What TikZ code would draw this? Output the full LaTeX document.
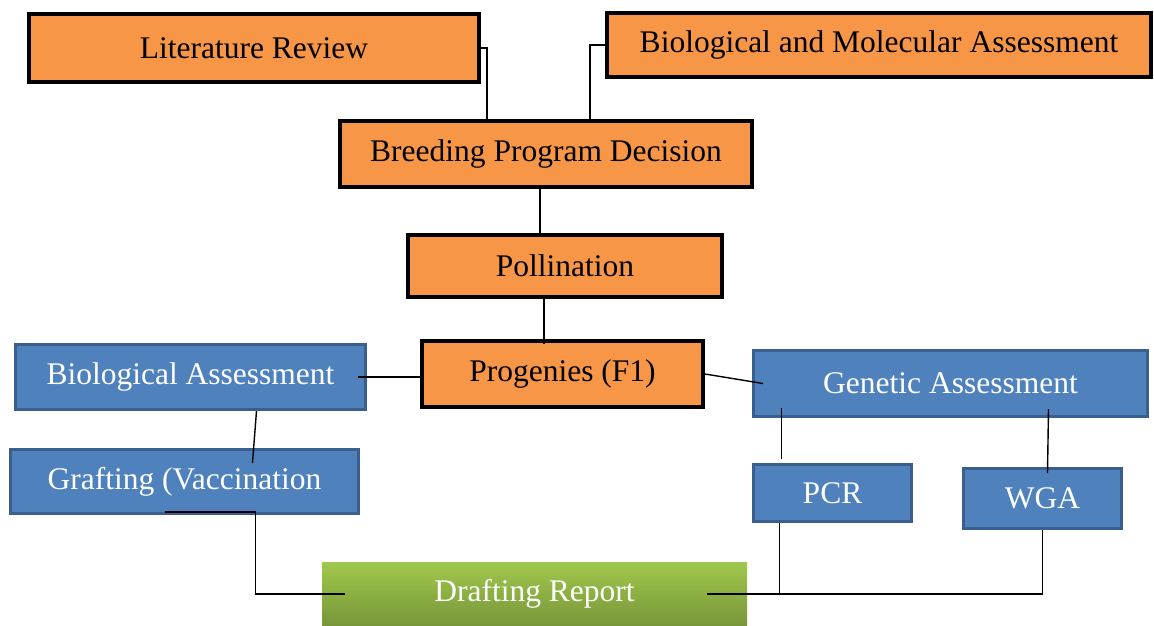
\documentclass[tikz,border=0pt]{standalone}
\usepackage{fontspec}
\setmainfont{Liberation Serif}
\usepackage{tikz}
\usetikzlibrary{calc}
\definecolor{boxorange}{HTML}{F79646}
\definecolor{boxblue}{HTML}{4F81BD}
\definecolor{boxblueline}{HTML}{3B5F8C}
\definecolor{greentop}{HTML}{A0C84C}
\definecolor{greenbottom}{HTML}{78963A}
\tikzset{
  orangebox/.style={rectangle, inner sep=0pt, text centered, draw=black, line width=4pt, fill=boxorange, text=black},
  bluebox/.style={rectangle, inner sep=0pt, text centered, draw=boxblueline, line width=3pt, fill=boxblue, text=white},
  greenbox/.style={rectangle, inner sep=0pt, text centered, top color=greentop, bottom color=greenbottom, text=white},
  link/.style={line width=1.4pt, black}
}
\begin{document}
\begin{tikzpicture}[x=1pt, y=-1pt, every node/.style={font=\fontsize{31.5}{36}\selectfont}]
        \useasboundingbox (0,0) rectangle (1154,625);
        \node (lit) [orangebox, minimum width=450pt, minimum height=68pt] at (254,48) {Literature Review};
        \node (bmol) [orangebox, minimum width=544pt, minimum height=64pt] at (879,45) {Biological and Molecular Assessment};
        \node (bpd) [orangebox, minimum width=412pt, minimum height=66pt] at (546,154) {Breeding Program Decision};
        \node (poll) [orangebox, minimum width=314pt, minimum height=62pt] at (565,266) {Pollination};
        \node (prog) [orangebox, minimum width=281pt, minimum height=66pt] at (562.5,374) {Progenies (F1)};
        \node (bioa) [bluebox, minimum width=350pt, minimum height=65pt] at (190.5,377) {Biological Assessment};
        \node (gen) [bluebox, minimum width=394pt, minimum height=66pt] at (950.5,383.5) {Genetic Assessment};
        \node (graft) [bluebox, minimum width=348pt, minimum height=64pt] at (184.5,481.5) {Grafting (Vaccination};
        \node (pcr) [bluebox, minimum width=158pt, minimum height=57pt] at (832.5,493) {PCR};
        \node (wga) [bluebox, minimum width=158pt, minimum height=60pt] at (1042.5,498.5) {WGA};
        \node (draft) [greenbox, minimum width=425pt, minimum height=63pt] at (534.5,594) {Drafting Report};

        % top part
        \draw [link] (lit.east) -| ([xshift=-59pt]bpd.north);
        \draw [link] (bmol.west) -| ([xshift=44pt]bpd.north);
        \draw [link] ([xshift=-6pt]bpd.south) -- ([xshift=-25pt]poll.north);
        \draw [link] ([xshift=-21pt]poll.south) -- ([xshift=-18.5pt,yshift=-5pt]prog.north);

        % assessments
        \draw [link] ([xshift=-9pt]bioa.east) -- (prog.west |- bioa.east);
        \draw [link] (prog.east) -- ([xshift=11pt]gen.west);
        \draw [link] ([xshift=66pt]bioa.south) -- ([xshift=68pt,yshift=-15pt]graft.north);
        \draw [link] ([xshift=-169pt,yshift=10pt]gen.south) -- ([xshift=-51pt,yshift=4pt]pcr.north);
        \draw [link] ([xshift=98pt,yshift=9pt]gen.south) -- ([xshift=5pt,yshift=-6pt]wga.north);

        % report
        \coordinate (join) at ($(pcr.south |- draft.east)+(-53pt,0)$);
        \draw [link] ([xshift=-20pt,yshift=3pt]graft.south) -- ++(91pt,0) |- ([xshift=23pt]draft.west);
        \draw [link] ([xshift=-53pt]pcr.south) |- ([xshift=-40pt]draft.east);
        \draw [link] (wga.south) |- (join);
    \end{tikzpicture}
\end{document}
